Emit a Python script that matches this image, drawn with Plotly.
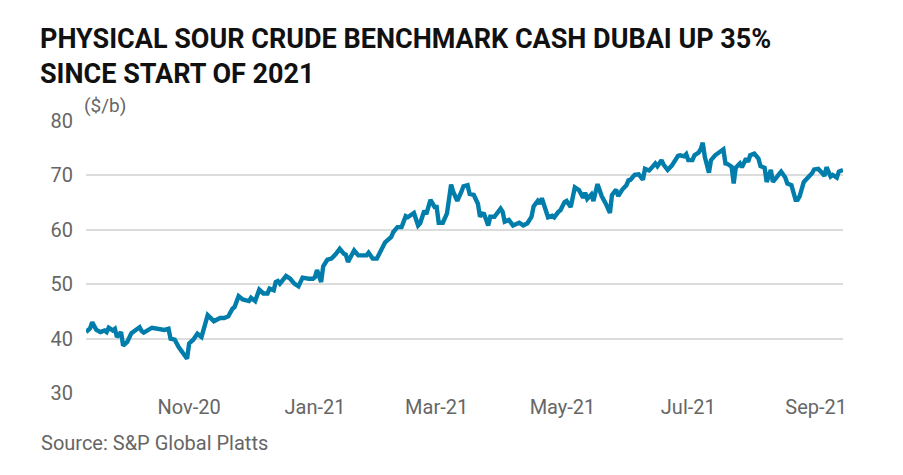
import plotly.graph_objects as go

dates = [
    "2020-09-12", "2020-09-14", "2020-09-15", "2020-09-17", "2020-09-19", "2020-09-21", "2020-09-22",
    "2020-09-23", "2020-09-25", "2020-09-26", "2020-09-27", "2020-09-29", "2020-09-30", "2020-10-02",
    "2020-10-04", "2020-10-06", "2020-10-08", "2020-10-09", "2020-10-10", "2020-10-14", "2020-10-16",
    "2020-10-19", "2020-10-20", "2020-10-22", "2020-10-23", "2020-10-25", "2020-10-27", "2020-10-31",
    "2020-11-01", "2020-11-03", "2020-11-05", "2020-11-07", "2020-11-10", "2020-11-13", "2020-11-16",
    "2020-11-18", "2020-11-20", "2020-11-22", "2020-11-23", "2020-11-25", "2020-11-27", "2020-11-30",
    "2020-12-01", "2020-12-03", "2020-12-05", "2020-12-07", "2020-12-09", "2020-12-10", "2020-12-12",
    "2020-12-13", "2020-12-14", "2020-12-15", "2020-12-18", "2020-12-20", "2020-12-22", "2020-12-24",
    "2020-12-26", "2020-12-29", "2020-12-31", "2021-01-01", "2021-01-02", "2021-01-04", "2021-01-05",
    "2021-01-07", "2021-01-09", "2021-01-11", "2021-01-13", "2021-01-15", "2021-01-16", "2021-01-17",
    "2021-01-20", "2021-01-22", "2021-01-24", "2021-01-26", "2021-01-27", "2021-01-29", "2021-01-31",
    "2021-02-02", "2021-02-04", "2021-02-07", "2021-02-08", "2021-02-10", "2021-02-12", "2021-02-14",
    "2021-02-15", "2021-02-18", "2021-02-20", "2021-02-21", "2021-02-23", "2021-02-24", "2021-02-26",
    "2021-02-28", "2021-03-01", "2021-03-02", "2021-03-04", "2021-03-06", "2021-03-08", "2021-03-09",
    "2021-03-11", "2021-03-13", "2021-03-14", "2021-03-16", "2021-03-17", "2021-03-19", "2021-03-21",
    "2021-03-22", "2021-03-23", "2021-03-24", "2021-03-26", "2021-03-27", "2021-03-29", "2021-04-01",
    "2021-04-02", "2021-04-03", "2021-04-05", "2021-04-07", "2021-04-10", "2021-04-12", "2021-04-14",
    "2021-04-16", "2021-04-17", "2021-04-19", "2021-04-20", "2021-04-21", "2021-04-23", "2021-04-24",
    "2021-04-26", "2021-04-27", "2021-04-29", "2021-04-30", "2021-05-02", "2021-05-03", "2021-05-05",
    "2021-05-07", "2021-05-09", "2021-05-11", "2021-05-12", "2021-05-13", "2021-05-15", "2021-05-16",
    "2021-05-18", "2021-05-20", "2021-05-22", "2021-05-24", "2021-05-25", "2021-05-27", "2021-05-28",
    "2021-05-30", "2021-06-01", "2021-06-02", "2021-06-03", "2021-06-05", "2021-06-07", "2021-06-09",
    "2021-06-10", "2021-06-12", "2021-06-13", "2021-06-15", "2021-06-16", "2021-06-18", "2021-06-19",
    "2021-06-21", "2021-06-23", "2021-06-26", "2021-06-27", "2021-06-29", "2021-06-30", "2021-07-01",
    "2021-07-03", "2021-07-04", "2021-07-06", "2021-07-07", "2021-07-08", "2021-07-09", "2021-07-11",
    "2021-07-12", "2021-07-14", "2021-07-17", "2021-07-18", "2021-07-19", "2021-07-20", "2021-07-22",
    "2021-07-23", "2021-07-24", "2021-07-26", "2021-07-27", "2021-07-29", "2021-07-30", "2021-07-31",
    "2021-08-02", "2021-08-04", "2021-08-05", "2021-08-07", "2021-08-08", "2021-08-09", "2021-08-10",
    "2021-08-11", "2021-08-13", "2021-08-15", "2021-08-17", "2021-08-18", "2021-08-20", "2021-08-22",
    "2021-08-23", "2021-08-24", "2021-08-26", "2021-08-28", "2021-08-30", "2021-08-31", "2021-09-02",
    "2021-09-04", "2021-09-05", "2021-09-06", "2021-09-08", "2021-09-09", "2021-09-11", "2021-09-12",
    "2021-09-14",
]

cash_dubai = [
    41.2, 41.9, 43.0, 41.6, 41.2, 41.5, 41.2,
    42.0, 41.5, 41.8, 40.3, 41.2, 38.7, 39.4,
    41.0, 41.5, 42.1, 41.4, 41.1, 42.0, 41.8,
    41.6, 41.6, 41.8, 40.0, 39.8, 38.4, 36.3,
    39.1, 39.8, 40.9, 40.3, 44.3, 43.2, 43.8,
    43.8, 44.1, 45.5, 45.8, 47.8, 47.2, 46.9,
    47.5, 46.9, 49.0, 48.3, 48.3, 49.2, 48.9,
    50.4, 50.6, 50.1, 51.5, 51.0, 50.1, 49.6,
    51.2, 51.0, 51.0, 51.3, 52.6, 50.4, 53.3,
    54.5, 54.7, 55.5, 56.5, 55.6, 55.4, 54.1,
    56.2, 55.3, 55.3, 55.3, 55.8, 54.7, 54.7,
    56.2, 57.7, 58.7, 59.6, 60.5, 60.5, 62.5,
    62.3, 63.1, 60.8, 61.2, 63.5, 62.9, 65.5,
    64.2, 64.2, 61.3, 61.3, 63.0, 68.3, 67.0,
    65.3, 67.0, 68.0, 68.2, 66.6, 66.4, 64.8,
    62.4, 63.0, 62.9, 60.8, 62.4, 62.4, 63.9,
    63.3, 61.5, 61.8, 60.8, 61.3, 60.8, 61.2,
    62.4, 64.3, 65.3, 64.8, 65.8, 63.6, 62.3,
    62.6, 62.3, 63.3, 63.6, 65.1, 65.3, 64.2,
    67.8, 67.3, 65.9, 66.8, 65.7, 66.5, 65.3,
    68.4, 66.2, 64.8, 63.1, 66.4, 67.4, 66.2,
    67.4, 68.2, 69.1, 69.2, 70.1, 70.2, 69.2,
    71.2, 70.9, 71.3, 72.2, 71.7, 72.8, 72.0,
    71.0, 71.8, 73.6, 73.7, 73.5, 73.9, 72.8,
    72.8, 73.7, 74.2, 74.8, 76.0, 73.4, 70.5,
    72.8, 73.7, 74.7, 74.8, 72.2, 72.1, 71.6,
    68.5, 71.4, 72.2, 71.5, 73.1, 72.5, 73.7,
    74.0, 73.1, 71.7, 71.4, 68.8, 70.1, 71.0,
    68.8, 69.9, 70.7, 69.6, 68.5, 68.2, 65.5,
    65.5, 66.2, 68.8, 69.6, 70.4, 71.1, 71.2,
    70.4, 69.9, 71.5, 69.8, 70.1, 69.6, 70.7,
    71.0,
]

tick_dates = ["2020-11-01", "2021-01-01", "2021-03-01", "2021-05-01", "2021-07-01", "2021-09-01"]
tick_labels = ["Nov-20", "Jan-21", "Mar-21", "May-21", "Jul-21", "Sep-21"]
y_ticks = [30, 40, 50, 60, 70, 80]

title_text = "PHYSICAL SOUR CRUDE BENCHMARK CASH DUBAI UP 35%<br>SINCE START OF 2021"
unit_text = "($/b)"
source_text = "Source: S&P Global Platts"

LINE_COLOR = "#007DAA"
GRID_COLOR = "#DCDCDC"
TEXT_GREY = "#666666"
FONT = "Roboto"

fig = go.Figure()
fig.add_trace(go.Scatter(
    x=dates, y=cash_dubai, mode="lines",
    line=dict(color=LINE_COLOR, width=4.4),
    hoverinfo="x+y", showlegend=False,
))

fig.update_layout(
    width=903, height=475,
    margin=dict(l=86, r=60, t=121, b=82),
    paper_bgcolor="white", plot_bgcolor="white",
    font=dict(family=FONT, color=TEXT_GREY),
    title=dict(
        text=title_text,
        font=dict(family=FONT, size=27, color="#111111", weight="bold"),
        xref="container", yref="container",
        x=40 / 903, xanchor="left",
        y=1 - 48 / 475, yanchor="top",
    ),
    xaxis=dict(
        type="date",
        range=[dates[0], dates[-1]],
        tickvals=tick_dates, ticktext=tick_labels,
        showgrid=False, zeroline=False, showline=False,
        ticks="", tickfont=dict(size=20, color=TEXT_GREY, family=FONT),
        fixedrange=True,
    ),
    yaxis=dict(
        range=[30, 80], tickvals=y_ticks,
        showgrid=True, gridcolor=GRID_COLOR, gridwidth=1.5,
        zeroline=False, showline=False, ticks="",
        ticklabelstandoff=12,
        tickfont=dict(size=20, color=TEXT_GREY, family=FONT),
        fixedrange=True,
    ),
    annotations=[
        dict(text=unit_text, xref="paper", yref="paper", x=0, y=1,
             xanchor="left", yanchor="middle", xshift=-4, yshift=16,
             showarrow=False, font=dict(size=19, color=TEXT_GREY, family=FONT)),
        dict(text=source_text, xref="paper", yref="paper", x=0, y=0,
             xanchor="left", yanchor="middle", xshift=-47, yshift=-50,
             showarrow=False, font=dict(size=20, color=TEXT_GREY, family=FONT)),
    ],
)

fig.write_html("out.html")
